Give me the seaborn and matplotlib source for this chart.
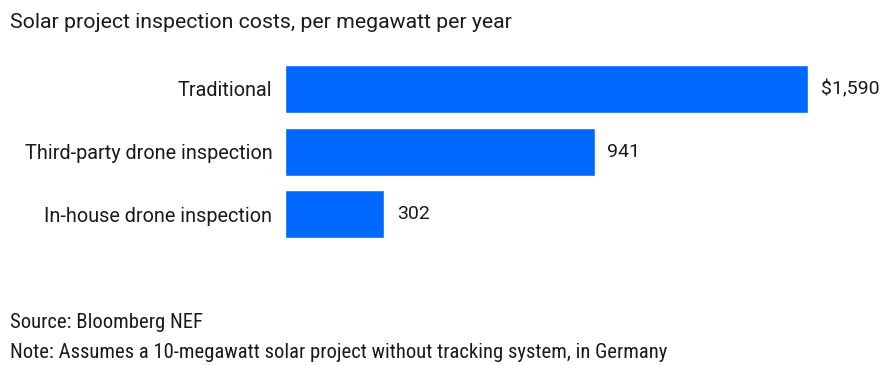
import matplotlib
matplotlib.use("Agg")
import matplotlib.pyplot as plt
import seaborn as sns
import pandas as pd

categories = ["Traditional", "Third-party drone inspection", "In-house drone inspection"]
costs = [1590, 941, 302]
value_labels = ["$1,590", "941", "302"]

title = "Solar project inspection costs, per megawatt per year"
source = "Source: Bloomberg NEF"
note = "Note: Assumes a 10-megawatt solar project without tracking system, in Germany"

sns.set_theme(style="white")
plt.rcParams["font.family"] = ["Roboto", "DejaVu Sans"]

df = pd.DataFrame({"category": categories, "cost": costs})

W, H = 882, 365
fig = plt.figure(figsize=(W / 100, H / 100), dpi=100)
ax = fig.add_axes([285 / W, 1 - 245.8 / H, 523 / W, 188.2 / H])

sns.barplot(data=df, x="cost", y="category", order=categories, color="#0068FF",
            saturation=1, width=0.765, ax=ax)

ax.set_xlim(0, 1590)
ax.set_ylim(2.5, -0.5)
ax.set_xlabel("")
ax.set_ylabel("")
ax.set_xticks([])
ax.tick_params(axis="y", length=0, pad=9, labelsize=14.3, labelcolor="#1a1a1a")
for s in ax.spines.values():
    s.set_visible(False)

for i, (v, lab) in enumerate(zip(costs, value_labels)):
    ax.annotate(lab, xy=(v, i), xytext=(9, 0), textcoords="offset points",
                ha="left", va="center", fontsize=14, color="#1a1a1a",
                annotation_clip=False)

fig.text(10 / W, 1 - 22 / H, title, ha="left", va="center", fontsize=15.3,
         color="#1a1a1a")
narrow = ["Roboto Condensed", "Liberation Sans Narrow", "Roboto", "DejaVu Sans"]
fig.text(10 / W, 1 - 322 / H, source, ha="left", va="center", fontsize=14.9,
         color="#1a1a1a", family=narrow)
fig.text(10 / W, 1 - 352 / H, note, ha="left", va="center", fontsize=14.9,
         color="#1a1a1a", family=narrow)

fig.savefig("out.png", dpi=100, facecolor="white")
